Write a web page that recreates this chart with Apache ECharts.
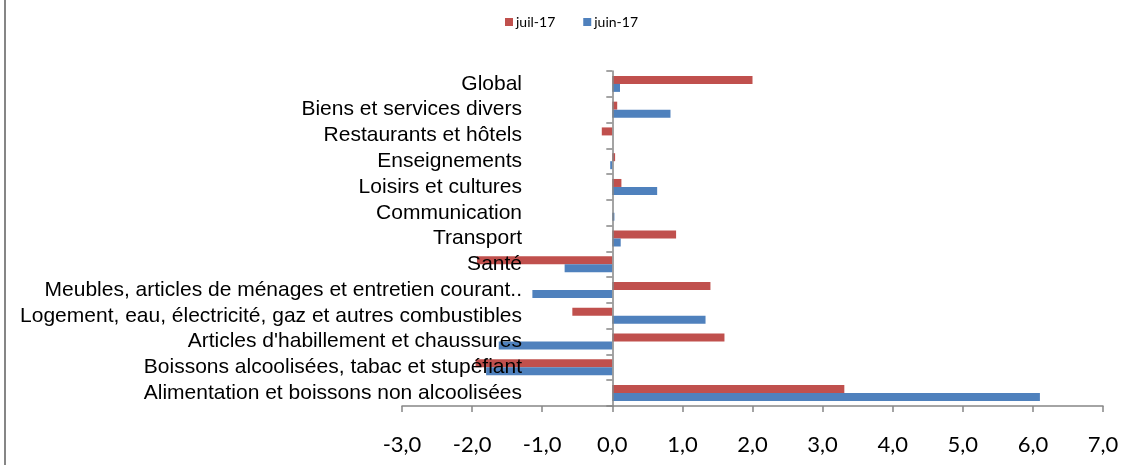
<!DOCTYPE html>
<html>
<head>
<meta charset="utf-8">
<script src="https://cdn.jsdelivr.net/npm/echarts@6/dist/echarts.min.js"></script>
<style>
    html, body { margin: 0; padding: 0; background: #fff; }
    #demo { width: 1143px; height: 465px; }
</style>
</head>
<body>
<div id="demo"></div>
<script>
/* ------------------------------------ données ------------------------------------ */
let categories = [
    'Alimentation et boissons non alcoolisées',
    'Boissons alcoolisées, tabac et stupéfiant',
    "Articles d'habillement et chaussures",
    'Logement, eau, électricité, gaz et autres combustibles',
    'Meubles, articles de ménages et entretien courant..',
    'Santé',
    'Transport',
    'Communication',
    'Loisirs et cultures',
    'Enseignements',
    'Restaurants et hôtels',
    'Biens et services divers',
    'Global'
];
let juil17 = [3.31, -1.95, 1.60, -0.57, 1.40, -1.93, 0.91, 0.00, 0.13, 0.04, -0.15, 0.07, 2.00];
let juin17 = [6.10, -1.80, -1.62, 1.33, -1.14, -0.68, 0.12, 0.03, 0.64, -0.03, 0.00, 0.83, 0.11];
let xTicks = { min: -3, max: 7, interval: 1 };

/* ------------------------------------ configuration ------------------------------------ */
let optionBars = function (o) {
    return {
        animation: false,
        legend: {
            top: 10,
            left: 'center',
            icon: 'rect',
            itemWidth: 8,
            itemHeight: 8,
            itemGap: 28,
            textStyle: { fontFamily: 'Lato', fontSize: 14, color: '#000', padding: [0, 0, 0, -2] },
            data: ['juil-17', 'juin-17']
        },
        grid: {
            left: 402,
            right: 40,
            top: 71,
            bottom: 59,
            containLabel: false,
            outerBoundsMode: 'none'
        },
        xAxis: {
            type: 'value',
            min: o.x.min,
            max: o.x.max,
            interval: o.x.interval,
            splitLine: { show: false },
            axisLine: { show: true, lineStyle: { color: '#868686', width: 1.5 } },
            axisTick: { show: true, length: 6, lineStyle: { color: '#868686', width: 1.5 } },
            axisLabel: {
                margin: 28,
                fontFamily: 'Lato',
                fontSize: 22,
                color: '#000',
                formatter: function (v) { return v.toFixed(1).replace('.', ','); }
            }
        },
        yAxis: {
            type: 'category',
            data: o.categories,
            z: 5,
            axisLine: { show: true, onZero: true, lineStyle: { color: '#868686', width: 1.5 } },
            axisTick: { show: true, length: 6, lineStyle: { color: '#868686', width: 1.5 } },
            axisLabel: {
                // les libellés restent calés sur le bord de la grille, on les ramène vers le zéro
                margin: -120,
                interval: 0,
                fontFamily: 'Liberation Sans',
                fontSize: 21,
                color: '#000'
            }
        },
        series: [
            {
                name: 'juil-17',
                type: 'bar',
                data: o.red,
                barWidth: 8,
                barGap: '0%',
                itemStyle: { color: '#C0504D' }
            },
            {
                name: 'juin-17',
                type: 'bar',
                data: o.blue,
                barWidth: 8,
                barGap: '0%',
                itemStyle: { color: '#4F81BD' }
            }
        ],
        graphic: [
            {
                // bord gauche du cadre
                type: 'line',
                shape: { x1: 5, y1: 0, x2: 5, y2: 465 },
                style: { stroke: '#868686', lineWidth: 2 }
            }
        ]
    };
};

let myChart = echarts.init(document.querySelector('#demo'));
myChart.setOption(optionBars({ categories: categories, red: juil17, blue: juin17, x: xTicks }));
</script>
</body>
</html>
